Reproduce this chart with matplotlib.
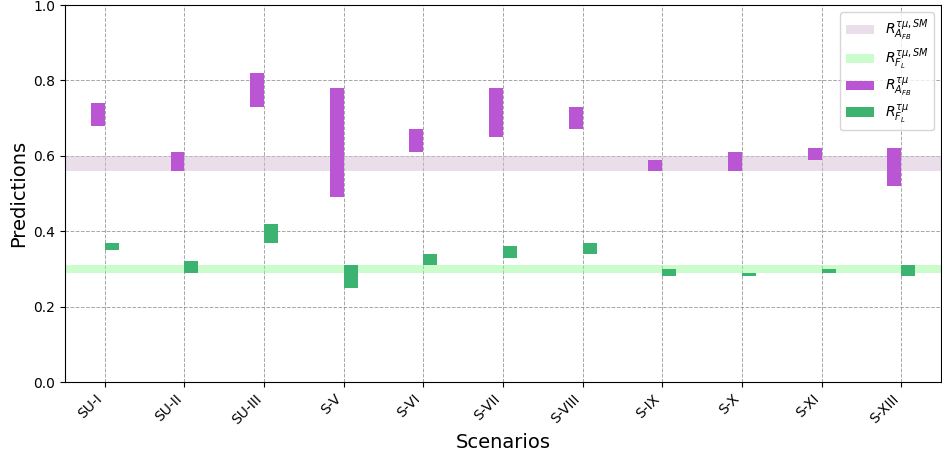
import numpy as np
import matplotlib as mpl
mpl.use('Agg')
from matplotlib import pyplot as plt

scenarios = ['SU-I', 'SU-II', 'SU-III', 'S-V', 'S-VI', 'S-VII', 'S-VIII',
             'S-IX', 'S-X', 'S-XI', 'S-XIII']

# ranges (low, high) of predictions
afb_low = [0.68, 0.56, 0.73, 0.49, 0.61, 0.65, 0.67, 0.56, 0.56, 0.59, 0.52]
afb_high = [0.74, 0.61, 0.82, 0.78, 0.67, 0.78, 0.73, 0.59, 0.61, 0.62, 0.62]
fl_low = [0.35, 0.29, 0.37, 0.25, 0.31, 0.33, 0.34, 0.28, 0.28, 0.29, 0.28]
fl_high = [0.37, 0.32, 0.42, 0.31, 0.34, 0.36, 0.37, 0.30, 0.29, 0.30, 0.31]

# SM bands
afb_sm = (0.56, 0.60)
fl_sm = (0.29, 0.31)

fig = plt.figure(figsize=(9.42, 4.57), dpi=100)
ax = fig.add_axes([0.069, 0.164, 0.93, 0.825])

x = np.arange(len(scenarios))
w = 0.175
afb_low = np.array(afb_low)
afb_high = np.array(afb_high)
fl_low = np.array(fl_low)
fl_high = np.array(fl_high)

ax.axhspan(afb_sm[0], afb_sm[1], color='thistle', alpha=0.5,
           label=r'$R^{\tau\mu,SM}_{A_{FB}}$', lw=0)
ax.axhspan(fl_sm[0], fl_sm[1], color='palegreen', alpha=0.5,
           label=r'$R^{\tau\mu,SM}_{F_L}$', lw=0)
ax.bar(x, afb_high - afb_low, width=-w, bottom=afb_low, align='edge',
       color='mediumorchid', label=r'$R^{\tau\mu}_{A_{FB}}$', zorder=3)
ax.bar(x, fl_high - fl_low, width=w, bottom=fl_low, align='edge',
       color='mediumseagreen', label=r'$R^{\tau\mu}_{F_L}$', zorder=3)

ax.set_xlim(-0.5, len(scenarios) - 0.5)
ax.set_ylim(0, 1.0)
ax.set_xticks(x)
ax.set_xticklabels(scenarios, rotation=45, ha='right')
ax.set_xlabel('Scenarios', fontsize=14)
ax.set_ylabel('Predictions', fontsize=14)
ax.grid(True, linestyle='--', color='gray', alpha=0.7, linewidth=0.7)
ax.set_axisbelow(True)
ax.legend(loc='upper right', fontsize=10, labelspacing=0.25)

plt.savefig('out.png')
